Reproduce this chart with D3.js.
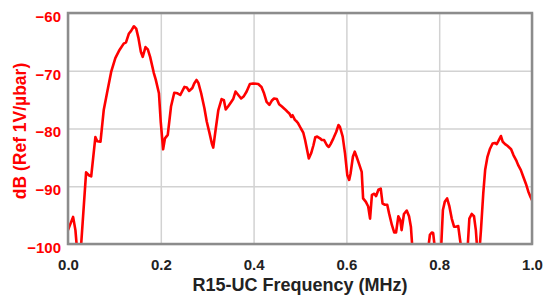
<!DOCTYPE html>
<html>
<head>
<meta charset="utf-8">
<script src="https://cdn.jsdelivr.net/npm/d3@7"></script>
<style>
  html, body { margin: 0; padding: 0; background: #fff; }
  svg { display: block; }
  text { font-family: "Liberation Sans", Arial, sans-serif; font-weight: bold; }
</style>
</head>
<body>
<svg id="chart" width="550" height="306"></svg>
<script>
// ---- data ----
const freqMHz = [0.000,0.011,0.016,0.019,0.024,0.028,0.039,0.045,0.050,0.059,0.063,0.070,0.077,0.084,0.093,0.102,0.111,0.120,0.125,0.131,0.136,0.142,0.147,0.152,0.157,0.161,0.167,0.172,0.177,0.185,0.189,0.196,0.200,0.205,0.209,0.215,0.222,0.229,0.236,0.242,0.251,0.256,0.261,0.268,0.272,0.277,0.281,0.287,0.294,0.299,0.305,0.310,0.313,0.318,0.324,0.331,0.336,0.340,0.345,0.351,0.356,0.361,0.367,0.373,0.379,0.385,0.392,0.399,0.410,0.417,0.422,0.428,0.434,0.439,0.444,0.450,0.455,0.461,0.468,0.473,0.477,0.481,0.484,0.489,0.493,0.496,0.502,0.507,0.511,0.516,0.519,0.524,0.529,0.533,0.537,0.543,0.547,0.552,0.558,0.562,0.566,0.572,0.578,0.583,0.586,0.592,0.597,0.602,0.606,0.609,0.614,0.618,0.622,0.628,0.633,0.636,0.642,0.647,0.651,0.655,0.660,0.664,0.669,0.674,0.678,0.683,0.688,0.692,0.698,0.703,0.707,0.712,0.716,0.719,0.724,0.730,0.735,0.739,0.742,0.748,0.759,0.769,0.776,0.780,0.784,0.787,0.791,0.797,0.804,0.808,0.812,0.817,0.822,0.827,0.832,0.836,0.841,0.845,0.848,0.853,0.861,0.865,0.870,0.875,0.879,0.882,0.886,0.890,0.895,0.899,0.904,0.909,0.915,0.920,0.924,0.928,0.933,0.937,0.942,0.947,0.951,0.955,0.960,0.966,0.970,0.976,0.981,0.987,0.992,0.997,1.000];
const levelDb = [-97.6,-95.3,-97.6,-100.5,-102,-100.5,-87.6,-88.1,-88.3,-81.5,-82.2,-82.3,-76.8,-73.9,-70.2,-67.8,-66.4,-65.3,-65.1,-63.6,-63.1,-62.3,-62.7,-64.4,-66.7,-67.6,-65.9,-66.3,-67.6,-70.4,-71.5,-73.9,-79.0,-83.6,-81.7,-81.1,-76.2,-73.8,-73.9,-74.2,-72.8,-72.9,-73.5,-73.0,-72.2,-71.6,-72.1,-73.9,-76.5,-78.8,-80.8,-82.6,-83.3,-80.3,-76.8,-74.9,-75.1,-76.7,-76.2,-75.5,-74.9,-73.6,-74.2,-74.8,-74.4,-73.6,-72.3,-72.2,-72.3,-72.8,-73.8,-75.4,-75.9,-75.2,-74.8,-74.9,-75.8,-76.2,-76.7,-77.1,-77.4,-78.0,-77.7,-78.5,-78.8,-79.1,-80.0,-80.7,-82.0,-84.0,-85.2,-84.3,-82.9,-81.5,-81.4,-81.7,-82.0,-82.0,-82.9,-83.2,-82.7,-81.7,-80.6,-79.4,-79.7,-81.4,-84.3,-88.1,-88.9,-87.8,-84.9,-84.0,-84.9,-86.3,-87.5,-92.1,-92.7,-93.5,-95.6,-91.5,-91.3,-91.7,-90.6,-90.4,-93.0,-93.2,-93.2,-94.7,-96.7,-98.0,-98.0,-95.2,-95.8,-97.6,-94.8,-94.2,-95.2,-97.0,-100.5,-104,-106,-104,-101,-98.4,-98.0,-98.1,-101,-104,-101,-94.1,-92.7,-92.1,-93.5,-95.6,-97.0,-97.0,-96.9,-99.3,-101,-104,-101,-95.6,-94.8,-95.2,-97.6,-101,-102,-97.6,-91.2,-87.2,-84.9,-83.6,-82.6,-82.5,-82.7,-82.1,-81.3,-82.3,-82.7,-83.0,-83.3,-83.6,-84.6,-85.5,-86.3,-87.2,-88.3,-89.6,-90.9,-91.9,-92.4];
const xTicks = [0.0, 0.2, 0.4, 0.6, 0.8, 1.0];
const yTicks = [-60, -70, -80, -90, -100];
const xTitle = "R15-UC Frequency (MHz)";
const yTitle = "dB (Ref 1V/\u00b5bar)";

// ---- layout ----
const svg = d3.select("#chart");
const L = 68, R = 532, T = 13, B = 244;
const x = d3.scaleLinear().domain([0, 1]).range([L, R]);
const y = d3.scaleLinear().domain([-100, -60]).range([B, T]);

// grid
svg.append("g").attr("transform", `translate(0,${B})`)
  .call(d3.axisBottom(x).tickValues(xTicks).tickSize(-(B - T)).tickFormat(""))
  .call(g => g.select(".domain").remove())
  .call(g => g.selectAll("line").attr("stroke", "#d2d2d2").attr("stroke-width", 1.5));
svg.append("g").attr("transform", `translate(${L},0)`)
  .call(d3.axisLeft(y).tickValues(yTicks).tickSize(-(R - L)).tickFormat(""))
  .call(g => g.select(".domain").remove())
  .call(g => g.selectAll("line").attr("stroke", "#d2d2d2").attr("stroke-width", 1.5));

// clip
svg.append("clipPath").attr("id", "plotclip")
  .append("rect").attr("x", L).attr("y", T).attr("width", R - L).attr("height", B - T);

// line
const line = d3.line().x((d, i) => x(freqMHz[i])).y(d => y(d));
svg.append("path").datum(levelDb)
  .attr("clip-path", "url(#plotclip)")
  .attr("d", line)
  .attr("fill", "none")
  .attr("stroke", "#ff0000")
  .attr("stroke-width", 2.6)
  .attr("stroke-linejoin", "round");

// frame
svg.append("rect").attr("x", L).attr("y", T).attr("width", R - L).attr("height", B - T)
  .attr("fill", "none").attr("stroke", "#8c8c8c").attr("stroke-width", 2.5);

// x axis labels
svg.append("g").attr("transform", `translate(0,${B})`)
  .call(d3.axisBottom(x).tickValues(xTicks).tickSize(0).tickPadding(0).tickFormat(d3.format(".1f")))
  .call(g => g.select(".domain").remove())
  .call(g => g.selectAll("text")
    .attr("y", 26).attr("dy", null)
    .attr("font-family", '"Liberation Sans", Arial, sans-serif')
    .attr("font-weight", "bold").attr("font-size", 15).attr("fill", "#222"));

// y axis labels
svg.append("g").attr("transform", `translate(${L},0)`)
  .call(d3.axisLeft(y).tickValues(yTicks).tickSize(0).tickPadding(7).tickFormat(d3.format("d")))
  .call(g => g.select(".domain").remove())
  .call(g => g.selectAll("text")
    .attr("dy", "0.55em")
    .attr("font-family", '"Liberation Sans", Arial, sans-serif')
    .attr("font-weight", "bold").attr("font-size", 15).attr("fill", "#ff0000"));

// titles
svg.append("text").attr("x", (L + R) / 2).attr("y", 291)
  .attr("text-anchor", "middle").attr("font-size", 18).attr("fill", "#222")
  .text(xTitle);
svg.append("text")
  .attr("transform", `translate(26,131) rotate(-90)`)
  .attr("text-anchor", "middle").attr("font-size", 17.5).attr("fill", "#ff0000")
  .text(yTitle);
</script>
</body>
</html>
